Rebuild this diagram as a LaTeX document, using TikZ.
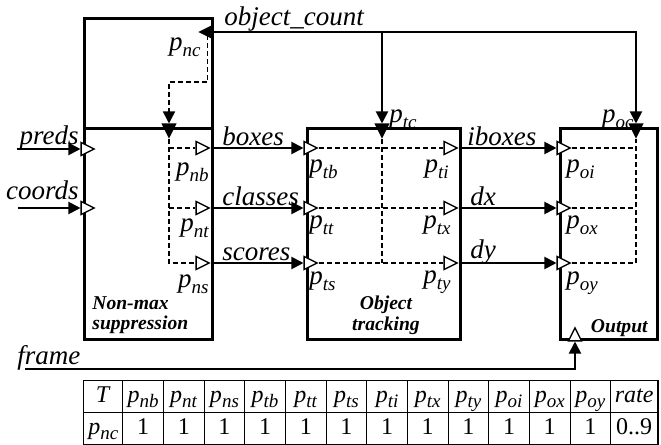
\documentclass[tikz,border=0pt]{standalone}
\usepackage{fontspec}
\setmainfont{Liberation Serif}
\usetikzlibrary{matrix,positioning,arrows.meta,shapes.geometric,calc}
\newcommand{\pp}[1]{\textit{p}\raisebox{-0.5ex}{\fontsize{9.5}{10}\selectfont\textit{#1}}}
\tikzset{
blk/.style={draw,line width=1.4pt,inner sep=0pt,anchor=north west},
conn/.style={line width=1pt,-{Triangle[length=6pt,width=6pt]}},
dsh/.style={line width=0.8pt,dash pattern=on 2.5pt off 1.5pt},
port/.style={
  isosceles triangle,
  isosceles triangle stretches,
  draw,line width=0.7pt,inner sep=0pt,
  minimum width=6.5pt,minimum height=6.5pt,
  anchor=apex,shape border rotate=#1
  },
oport/.style={port=#1,fill=white},
fport/.style={port=#1,fill=black},
lbl/.style={inner sep=0pt,font=\fontsize{13.5}{15}\selectfont\itshape},
bname/.style={inner sep=0pt,font=\fontsize{9.8}{10}\selectfont\bfseries\itshape},
tabmat/.style={
  matrix of nodes,
  inner sep=0pt,
  nodes={draw,line width=0.4pt,inner sep=0pt,anchor=center,
    text height=1.7ex,text depth=0.5ex,
    minimum width=20.33pt,minimum height=16pt,
    font=\fontsize{12}{13}\selectfont},
  column sep=-\pgflinewidth,
  row sep=-\pgflinewidth,
  column 1/.style={nodes={minimum width=19.5pt}},
  column 14/.style={nodes={minimum width=23.5pt}}
  }
}
\begin{document}
\begin{tikzpicture}[x=0.5pt,y=-0.5pt]
\useasboundingbox (0,0) rectangle (661,445);

% blocks
\node[blk,minimum width=64pt,minimum height=55pt] (nmstop) at (83,17) {};
\node[blk,minimum width=64pt,minimum height=105.5pt] (nms) at (83,127) {};
\node[blk,minimum width=76.5pt,minimum height=105.5pt] (trk) at (306,127) {};
\node[blk,minimum width=48.5pt,minimum height=105.5pt] (outb) at (559,127) {};

% ports
\node[oport=0] (ppreds) at (96,149) {};
\node[oport=0] (pcoords) at (96,208) {};
\node[fport=180] (pnc) at (198,32) {};
\node[fport=270] (pnin) at (169,139) {};
\node[oport=0] (pnb) at (211,148) {};
\node[oport=0] (pnt) at (211,208) {};
\node[oport=0] (pns) at (211,263) {};
\node[fport=270] (ptc) at (382,139) {};
\node[oport=0] (ptb) at (319,148) {};
\node[oport=0] (ptt) at (319,208) {};
\node[oport=0] (pts) at (319,263) {};
\node[oport=0] (pti) at (459,148) {};
\node[oport=0] (ptx) at (459,208) {};
\node[oport=0] (pty) at (459,263) {};
\node[fport=270] (poc) at (636,139) {};
\node[oport=0] (poi) at (572,148) {};
\node[oport=0] (pox) at (572,208) {};
\node[oport=0] (poy) at (572,263) {};
\node[oport=90] (pof) at (575,326) {};

\coordinate (predsin) at (17,149);
\coordinate (coordsin) at (18,208);
\coordinate (framein) at (25,369);
\coordinate (ncbend) at (169,82);

% solid connectors
\draw[conn] (predsin) -- (ppreds.lower side);
\draw[conn] (coordsin) -- (pcoords.lower side);
\draw[conn] (pnb.apex) -- (ptb.lower side);
\draw[conn] (pnt.apex) -- (ptt.lower side);
\draw[conn] (pns.apex) -- (pts.lower side);
\draw[conn] (pti.apex) -- (poi.lower side);
\draw[conn] (ptx.apex) -- (pox.lower side);
\draw[conn] (pty.apex) -- (poy.lower side);
\draw[conn] (pnc.lower side) -| (poc.lower side);
\draw[conn] (ptc.lower side |- pnc.lower side) -- (ptc.lower side);
\draw[conn] (framein) -| (pof.lower side);

% dashed inner paths
\draw[dsh,-{Triangle[length=6pt,width=6pt]}]
  ([xshift=-3pt,yshift=-1.5pt]pnc.lower side) |- (ncbend) -- (pnin.lower side);
\draw[dsh] (pnin.apex) |- (pns.lower side);
\draw[dsh] (pnin.apex |- pnb.lower side) -- (pnb.lower side);
\draw[dsh] (pnin.apex |- pnt.lower side) -- (pnt.lower side);
\draw[dsh] (ptb.apex) -- (pti.lower side);
\draw[dsh] (ptt.apex) -- (ptx.lower side);
\draw[dsh] (pts.apex) -- (pty.lower side);
\draw[dsh] (ptc.apex) -- (ptc.apex |- pts.apex);
\draw[dsh] (poi.apex) -- (poi.apex -| poc.apex);
\draw[dsh] (pox.apex) -- (pox.apex -| poc.apex);
\draw[dsh] (poy.apex) -| (poc.apex);

% labels
\node[lbl,anchor=base west] (ocl) at (224,25) {object\_count};
\node[lbl,anchor=base east] (predsl) at (79,144) {preds};
\node[lbl,anchor=base east] (coordsl) at (79,199) {coords};
\node[lbl,anchor=base west] (framel) at (17,364) {frame};
\node[lbl,anchor=base west] (boxesl) at (222,145) {boxes};
\node[lbl,anchor=base west] (classesl) at (222,205) {classes};
\node[lbl,anchor=base west] (scoresl) at (222,260) {scores};
\node[lbl,anchor=base west] (iboxesl) at (467,145) {iboxes};
\node[lbl,anchor=base west] (dxl) at (470,205) {dx};
\node[lbl,anchor=base west] (dyl) at (470,258) {dy};

\node[lbl,anchor=base east] (pncl) at (201,50) {\pp{nc}};
\node[lbl,anchor=base east] (pnbl) at (209,175) {\pp{nb}};
\node[lbl,anchor=base east] (pntl) at (209,231) {\pp{nt}};
\node[lbl,anchor=base east] (pnsl) at (209,287) {\pp{ns}};
\node[lbl,anchor=base west] (ptbl) at (309,172) {\pp{tb}};
\node[lbl,anchor=base west] (pttl) at (309,228) {\pp{tt}};
\node[lbl,anchor=base west] (ptsl) at (309,284) {\pp{ts}};
\node[lbl,anchor=base east] (ptil) at (449,172) {\pp{ti}};
\node[lbl,anchor=base east] (ptxl) at (451,228) {\pp{tx}};
\node[lbl,anchor=base east] (ptyl) at (451,283) {\pp{ty}};
\node[lbl,anchor=base west] (ptcl) at (389,122) {\pp{tc}};
\node[lbl,anchor=base east] (pocl) at (634,122) {\pp{oc}};
\node[lbl,anchor=base west] (poil) at (566,172) {\pp{oi}};
\node[lbl,anchor=base west] (poxl) at (566,228) {\pp{ox}};
\node[lbl,anchor=base west] (poyl) at (566,284) {\pp{oy}};

\node[bname,anchor=north west,align=left] (nmsl) at (92,296) {Non-max\\suppression};
\node[bname,anchor=north,align=center] (trkl) at (386,296) {Object\\tracking};
\node[bname,anchor=base east] (outl) at (648,332) {Output};

% rate table
\matrix[tabmat,anchor=north west] (tab) at (83,380)
{
\textit{T} & \pp{nb} & \pp{nt} & \pp{ns} & \pp{tb} & \pp{tt} & \pp{ts} & \pp{ti} & \pp{tx} & \pp{ty} & \pp{oi} & \pp{ox} & \pp{oy} & \textit{rate} \\
\pp{nc} & 1 & 1 & 1 & 1 & 1 & 1 & 1 & 1 & 1 & 1 & 1 & 1 & 0..9 \\
};
\draw[line width=0.8pt] (tab-1-1.north west) rectangle (tab-2-14.south east);
\end{tikzpicture}
\end{document}
